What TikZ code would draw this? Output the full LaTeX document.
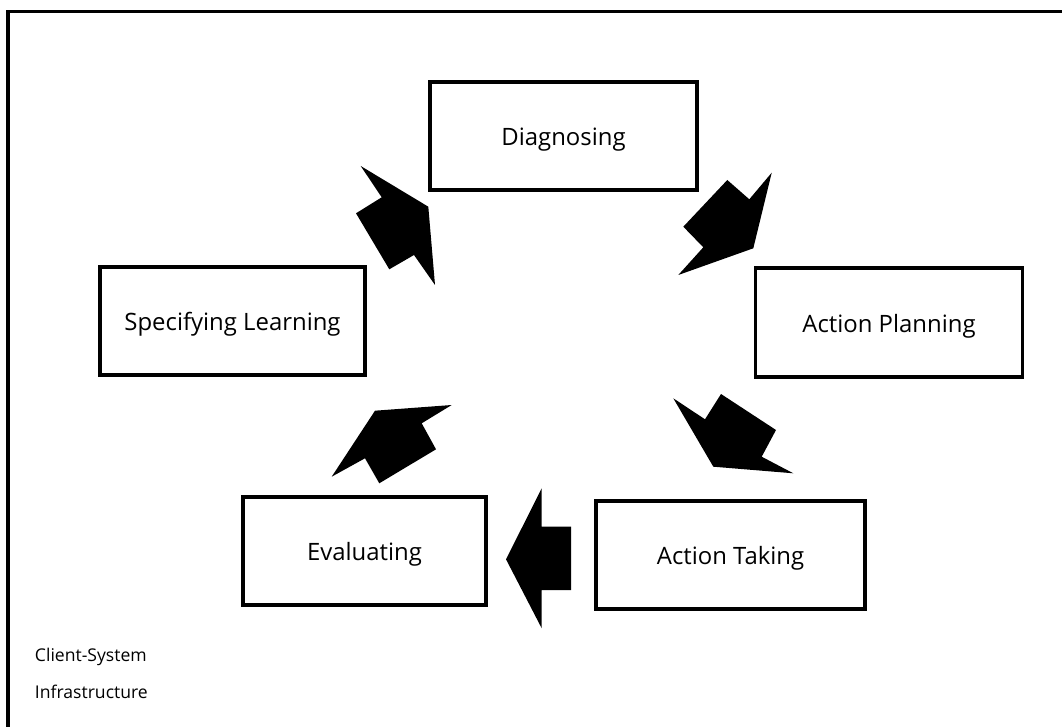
\documentclass[tikz,border=0pt]{standalone}
\usepackage{fontspec}
\setmainfont{Open Sans}
\tikzset{
  stagebox/.style={draw,line width=2.6pt,minimum width=6.675cm,minimum height=2.7cm,
    text height=19pt,text depth=5pt,font=\fontsize{17}{20}\selectfont},
  blockarrow/.style={fill=black,draw=none},
  framel/.style={line width=2.6pt}
}
\begin{document}
\begin{tikzpicture}[x=0.025cm,y=-0.025cm]
\useasboundingbox (0,0) rectangle (1062,727);
\draw[framel] (8,727) |- (1062,11.5);
% the five stages
\node[stagebox] (diag) at (563.5,136) {Diagnosing};
\node[stagebox,minimum height=2.725cm] (plan) at (889,322.5) {Action Planning};
\node[stagebox,minimum width=6.625cm] (learn) at (232.5,321) {Specifying Learning};
\node[stagebox,minimum width=6.075cm] (eval) at (364.5,551) {Evaluating};
\node[stagebox,minimum width=6.725cm] (take) at (730.5,555) {Action Taking};
% block arrows between the stages
\fill[blockarrow] (771.7,172.7) -- (749.3,199.3) -- (727.3,180) -- (683.3,226.7)
  -- (703.3,247.3) -- (678.3,275) -- (753.3,248.3) -- cycle;
\fill[blockarrow] (673.3,398.3) -- (705,419.3) -- (721,394) -- (776,430)
  -- (761.7,456.7) -- (793.3,473.3) -- (713.3,466.7) -- cycle;
\fill[blockarrow] (506,559.3) -- (541.7,488.3) -- (541.7,526.7) -- (571,526.7)
  -- (571,590) -- (541.7,590) -- (541.7,628.3) -- cycle;
\fill[blockarrow] (451.7,405) -- (375,410.7) -- (331.7,476.7) -- (365,458.3)
  -- (379.3,483.3) -- (436,449.3) -- (421.7,423.3) -- cycle;
\fill[blockarrow] (360.7,166) -- (428.3,206.7) -- (435,285) -- (414,255)
  -- (389.3,269.3) -- (356,213.3) -- (381.7,197.3) -- cycle;
% infrastructure label
\node[anchor=west,font=\fontsize{12.5}{15}\selectfont] (client) at (30,657) {Client-System};
\node[anchor=west,font=\fontsize{12.5}{15}\selectfont] (infra) at (30,692) {Infrastructure};
\end{tikzpicture}
\end{document}
